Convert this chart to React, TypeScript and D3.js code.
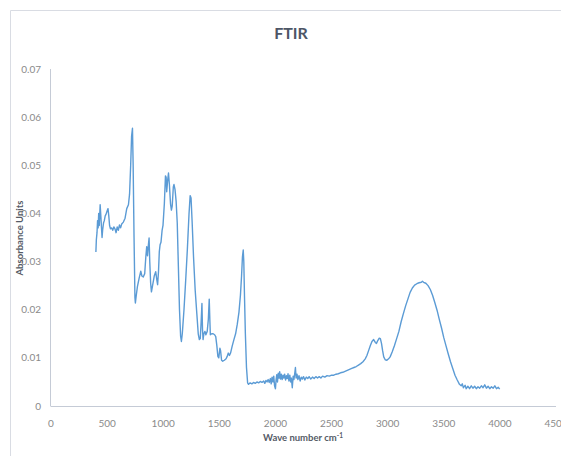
import React from "react";
import * as d3 from "d3";

const title = "FTIR";
const xAxisTitle = "Wave number cm";
const yAxisTitle = "Absorbance Units";
const xTicks = [0, 500, 1000, 1500, 2000, 2500, 3000, 3500, 4000, 4500];
const yTicks = [0, 0.01, 0.02, 0.03, 0.04, 0.05, 0.06, 0.07];

const wavenumber = [
  400, 404, 410, 415, 420, 425, 430, 438, 444, 450, 455, 460, 468, 475, 483, 490, 500, 508, 515, 522,
  530, 540, 550, 560, 570, 580, 590, 600, 610, 620, 630, 645, 660, 675, 690, 700, 710, 718, 726, 732,
  740, 748, 752, 760, 770, 785, 800, 810, 822, 835, 845, 853, 860, 868, 874, 880, 888, 895, 905, 920,
  933, 943, 950, 958, 965, 972, 980, 990, 998, 1010, 1020, 1026, 1031, 1040, 1047, 1055, 1065, 1073, 1080, 1090,
  1096, 1105, 1115, 1125, 1135, 1145, 1155, 1162, 1170, 1185, 1200, 1215, 1230, 1240, 1248, 1258, 1270, 1285, 1300, 1312,
  1322, 1330, 1338, 1345, 1350, 1355, 1362, 1372, 1380, 1392, 1402, 1410, 1416, 1420, 1432, 1445, 1458, 1468, 1478, 1487,
  1495, 1505, 1511, 1520, 1530, 1545, 1560, 1570, 1580, 1590, 1600, 1615, 1630, 1645, 1660, 1675, 1688, 1698, 1706, 1713,
  1718, 1724, 1732, 1742, 1752, 1760, 1775, 1790, 1805, 1820, 1835, 1850, 1865, 1880, 1895, 1905, 1915, 1925, 1935, 1945,
  1955, 1962, 1970, 1978, 1985, 1992, 2000, 2006, 2012, 2018, 2025, 2032, 2038, 2045, 2052, 2060, 2068, 2075, 2082, 2090,
  2098, 2105, 2112, 2120, 2128, 2135, 2142, 2150, 2158, 2165, 2172, 2178, 2184, 2192, 2200, 2210, 2220, 2230, 2240, 2250,
  2262, 2275, 2288, 2300, 2315, 2330, 2345, 2360, 2375, 2390, 2405, 2420, 2440, 2460, 2480, 2500, 2520, 2540, 2560, 2580,
  2600, 2620, 2640, 2660, 2680, 2700, 2720, 2740, 2760, 2780, 2800, 2815, 2830, 2845, 2860, 2875, 2890, 2900, 2912, 2925,
  2935, 2945, 2955, 2965, 2978, 2993, 3008, 3022, 3040, 3060, 3080, 3100, 3120, 3140, 3160, 3180, 3200, 3220, 3240, 3260,
  3280, 3300, 3310, 3320, 3340, 3360, 3380, 3400, 3420, 3440, 3460, 3480, 3500, 3520, 3540, 3560, 3580, 3600, 3620, 3640,
  3655, 3665, 3675, 3690, 3700, 3715, 3730, 3745, 3760, 3775, 3790, 3805, 3820, 3835, 3850, 3865, 3880, 3895, 3910, 3925,
  3940, 3955, 3970, 3985, 3998,
];

const absorbance = [
  0.032, 0.0345, 0.036, 0.0385, 0.037, 0.04, 0.0375, 0.0418, 0.0395, 0.037, 0.035, 0.0365, 0.038, 0.0385, 0.0395, 0.0398, 0.0405, 0.041, 0.0395, 0.0375,
  0.0368, 0.037, 0.0365, 0.0372, 0.0368, 0.036, 0.0372, 0.0365, 0.0376, 0.037, 0.0378, 0.0382, 0.039, 0.041, 0.0418, 0.044, 0.05, 0.056, 0.0577, 0.05,
  0.035, 0.0225, 0.0214, 0.023, 0.0248, 0.0265, 0.028, 0.027, 0.0268, 0.0275, 0.031, 0.0331, 0.0312, 0.0335, 0.0349, 0.03, 0.0255, 0.0237, 0.025, 0.027,
  0.0279, 0.0262, 0.0252, 0.028, 0.032, 0.0335, 0.034, 0.0365, 0.0375, 0.042, 0.0478, 0.0475, 0.0445, 0.047, 0.0484, 0.046, 0.042, 0.0407, 0.0415, 0.0455,
  0.046, 0.045, 0.0425, 0.038, 0.029, 0.02, 0.0145, 0.0134, 0.015, 0.02, 0.026, 0.0325, 0.04, 0.0437, 0.0432, 0.038, 0.031, 0.024, 0.019, 0.015,
  0.0138, 0.014, 0.0175, 0.0213, 0.016, 0.0138, 0.015, 0.0155, 0.0148, 0.0155, 0.018, 0.0222, 0.0175, 0.0148, 0.015, 0.015, 0.0148, 0.0144, 0.0125, 0.0103,
  0.01, 0.012, 0.0115, 0.0095, 0.0093, 0.0095, 0.0098, 0.0103, 0.011, 0.0105, 0.011, 0.0125, 0.0138, 0.015, 0.017, 0.0195, 0.023, 0.027, 0.031, 0.0324,
  0.03, 0.023, 0.015, 0.008, 0.0048, 0.0045, 0.0048, 0.0046, 0.0049, 0.0047, 0.005, 0.0048, 0.0051, 0.0049, 0.0052, 0.0047, 0.0053, 0.005, 0.0055, 0.0049,
  0.0057, 0.0046, 0.006, 0.005, 0.0062, 0.0042, 0.0036, 0.0055, 0.0065, 0.005, 0.0068, 0.0058, 0.0071, 0.0056, 0.0066, 0.0055, 0.0064, 0.0058, 0.0066, 0.0054,
  0.0063, 0.0057, 0.0067, 0.0052, 0.0064, 0.005, 0.0058, 0.0038, 0.0062, 0.0055, 0.0068, 0.008, 0.0058, 0.0066, 0.0055, 0.0063, 0.0052, 0.006, 0.0056, 0.0061,
  0.0054, 0.006, 0.0057, 0.0061, 0.0056, 0.006, 0.0057, 0.0061, 0.0058, 0.0061, 0.0058, 0.0062, 0.006, 0.0063, 0.0062, 0.0064, 0.0064, 0.0066, 0.0067, 0.0069,
  0.007, 0.0072, 0.0074, 0.0076, 0.0078, 0.008, 0.0082, 0.0085, 0.0088, 0.0092, 0.0098, 0.0105, 0.0115, 0.0125, 0.0134, 0.0138, 0.0132, 0.013, 0.0136, 0.0141,
  0.014, 0.013, 0.0115, 0.0102, 0.0096, 0.0095, 0.0098, 0.0102, 0.0112, 0.0125, 0.014, 0.0155, 0.0175, 0.0192, 0.0208, 0.0222, 0.0236, 0.0245, 0.0251, 0.0254,
  0.0256, 0.0257, 0.0259, 0.0257, 0.0255, 0.025, 0.0242, 0.023, 0.0215, 0.0199, 0.018, 0.0162, 0.0142, 0.0125, 0.0108, 0.0092, 0.0078, 0.0064, 0.0054, 0.0045,
  0.0042, 0.0046, 0.0038, 0.0043, 0.0036, 0.0041, 0.0036, 0.0042, 0.0037, 0.0041, 0.0036, 0.004, 0.0037, 0.0042, 0.0038, 0.0044, 0.0037, 0.0041, 0.0036, 0.004,
  0.0037, 0.0042, 0.0036, 0.0039, 0.0035,
];

const W = 561;
const H = 456;
const font = "Lato, 'Open Sans', sans-serif";

export default function App() {
  const x = d3.scaleLinear().domain([0, 4500]).range([51, 556]);
  const y = d3.scaleLinear().domain([0, 0.07]).range([406, 69]);
  const pts: [number, number][] = wavenumber.map((w, i) => [w, absorbance[i]]);
  const line = d3
    .line<[number, number]>()
    .x((d) => x(d[0]))
    .y((d) => y(d[1]));
  const yFmt = (v: number) => (v === 0 ? "0" : d3.format(".2f")(v));

  return (
    <svg
      width={W}
      height={H}
      style={{ position: "absolute", left: 0, top: 0, background: "#fff" }}
      fontFamily={font}
    >
      <rect x={0} y={0} width={W} height={H} fill="#fff" />
      <path d={`M10.5,${H} V10.5 H${W}`} fill="none" stroke="#d9dce3" strokeWidth={1} />
      <text x={291} y={39} textAnchor="middle" fontSize={16} fontWeight="bold" fill="#4d5666">
        {title}
      </text>
      {yTicks.map((t) => (
        <text key={t} x={41} y={y(t)} dy="0.35em" textAnchor="end" fontSize={10} fill="#8a8a8a">
          {yFmt(t)}
        </text>
      ))}
      {xTicks.map((t) => (
        <text key={t} x={x(t)} y={427} textAnchor="middle" fontSize={10} fill="#8a8a8a">
          {t}
        </text>
      ))}
      <line x1={50.5} x2={50.5} y1={69} y2={406} stroke="#c5cbd6" strokeWidth={1} />
      <line x1={50.5} x2={556} y1={406.5} y2={406.5} stroke="#c5cbd6" strokeWidth={1} />
      <path d={line(pts) || ""} fill="none" stroke="#5b9bd5" strokeWidth={1.4} strokeLinejoin="round" />
      <text x={303} y={441} textAnchor="middle" fontSize={9.5} fontWeight="bold" fill="#555b66">
        {xAxisTitle}
        <tspan fontSize={6.5} dy={-3.5}>-1</tspan>
      </text>
      <text
        transform={`translate(23,238) rotate(-90)`}
        textAnchor="middle"
        fontSize={9.5}
        fontWeight="bold"
        fill="#555b66"
      >
        {yAxisTitle}
      </text>
    </svg>
  );
}
